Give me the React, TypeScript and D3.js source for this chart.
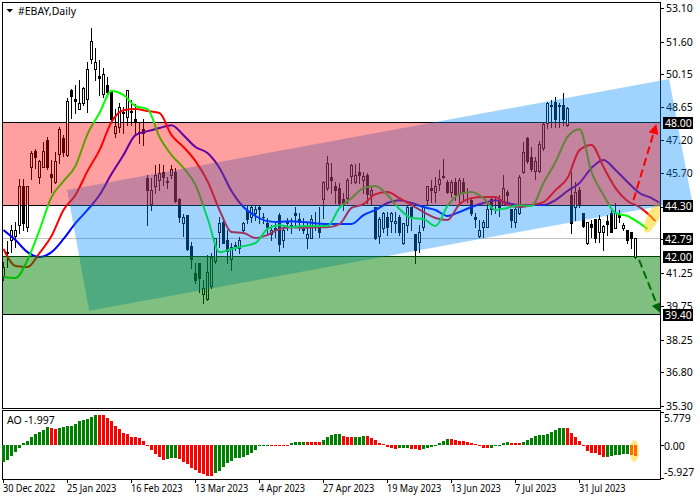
import React from "react";
import * as d3 from "d3";

const title = "#EBAY,Daily";
const aoLabel = "AO -1.997";
const opens = [41.06,42.17,42.71,42.85,43.38,45.09,43.29,45.94,46.70,45.53,45.98,47.19,45.67,45.27,46.56,47.28,46.52,49.39,49.03,48.58,48.85,49.03,50.82,50.33,50.06,49.25,49.65,49.34,47.50,47.77,48.44,48.18,48.49,48.09,47.55,47.68,45.49,44.32,45.09,45.40,45.76,45.35,45.62,45.76,44.55,43.47,43.83,42.44,41.23,41.68,40.29,40.07,40.65,41.73,43.03,43.52,42.71,41.82,42.49,42.35,43.12,43.97,43.74,43.88,44.15,43.74,43.47,42.98,43.21,43.83,42.71,43.52,43.38,43.92,43.65,43.25,42.80,42.80,43.38,43.25,44.55,45.00,45.53,45.09,45.04,44.55,44.59,45.58,45.31,45.76,45.40,45.62,44.73,44.15,42.89,43.25,43.70,43.56,43.47,43.74,42.58,43.38,44.15,42.94,42.62,43.29,44.50,45.00,44.82,45.22,45.58,45.27,44.82,45.31,44.77,45.31,44.86,44.50,43.70,42.89,43.29,43.29,44.55,44.28,44.50,44.28,44.82,44.06,43.52,43.92,45.76,47.28,46.43,45.80,45.80,46.83,47.95,48.76,48.89,48.76,48.76,47.86,44.73,44.19,44.91,43.88,42.58,43.43,43.65,43.03,43.03,43.56,43.92,43.25,43.79,43.25,43.16,43.03,41.95];
const highs = [41.73,42.67,43.38,43.52,45.44,45.44,45.09,46.70,46.79,46.30,47.10,47.33,46.30,46.65,47.77,47.41,49.07,49.47,49.65,49.88,49.56,50.68,52.21,51.31,50.77,50.41,50.01,49.34,48.58,48.85,48.67,49.43,48.98,48.80,48.00,48.13,45.62,45.49,46.07,46.12,46.07,45.53,46.07,45.94,44.59,43.88,43.83,42.62,41.68,41.68,40.92,42.04,42.13,42.80,43.74,43.74,43.16,42.58,42.62,42.85,43.52,44.24,44.24,44.28,44.28,43.92,43.70,43.38,43.47,43.92,43.38,43.70,43.70,44.19,43.92,43.70,43.47,43.83,43.97,44.19,45.35,46.47,46.16,45.31,45.27,44.82,45.49,46.12,46.12,46.16,45.76,45.71,45.09,44.15,43.74,43.97,43.97,43.97,43.97,43.83,43.47,44.24,44.19,42.94,43.38,44.28,45.13,45.40,45.53,45.85,46.34,45.40,45.40,45.49,45.49,45.49,45.04,44.59,43.92,43.61,43.61,44.37,44.64,44.59,44.73,45.62,44.95,44.06,44.28,45.62,47.10,47.33,46.88,46.43,47.15,47.95,48.89,48.98,49.12,48.85,49.30,48.67,45.76,45.31,45.09,43.92,43.52,43.61,43.65,43.83,43.38,43.83,44.06,44.37,44.06,43.47,43.16,43.07,42.80];
const lows = [40.92,41.50,42.17,42.40,43.03,43.16,43.12,45.44,45.94,45.27,45.98,45.89,44.86,45.27,46.16,46.47,46.47,48.18,48.40,48.58,48.76,48.44,50.64,49.88,49.21,49.12,49.21,48.09,47.33,47.55,47.50,47.86,47.86,47.50,47.06,46.97,43.38,44.06,44.82,44.95,45.18,45.04,45.49,44.41,43.52,42.89,42.26,41.46,40.79,40.38,39.89,40.03,40.56,41.68,42.40,42.58,41.68,41.37,42.26,42.13,43.07,43.47,43.52,43.61,43.47,43.47,42.94,42.71,42.85,42.22,42.40,43.16,43.03,43.38,43.16,43.03,42.35,42.80,43.16,42.85,43.70,44.95,44.82,44.37,44.28,44.06,44.37,45.27,45.27,45.27,44.82,44.37,44.28,42.76,42.58,43.07,42.94,43.07,43.07,42.94,42.53,43.07,43.16,41.68,42.17,43.16,44.28,44.41,44.41,44.95,45.49,44.82,44.64,44.50,44.41,44.50,44.41,43.83,43.29,42.85,42.85,43.29,43.88,43.92,43.79,44.28,44.28,43.29,43.29,43.88,45.71,46.16,45.80,45.44,45.76,46.74,47.73,47.77,47.77,47.77,47.86,47.82,43.03,43.61,44.19,43.29,42.53,42.85,42.62,42.62,42.26,42.94,43.07,43.25,43.52,43.16,42.58,42.35,41.91];
const closes = [41.50,42.13,43.12,43.12,45.09,43.47,45.09,46.61,46.43,46.25,46.70,45.94,45.53,46.25,47.68,46.65,48.94,49.12,48.94,48.85,49.52,50.37,51.62,50.68,49.97,50.15,49.30,48.13,47.82,48.67,48.40,49.43,48.44,48.00,47.50,47.50,44.95,44.91,45.62,45.71,45.53,45.31,45.85,44.46,43.74,43.70,42.31,41.82,40.88,40.97,40.56,41.28,41.91,42.80,43.47,42.58,42.22,42.40,42.44,42.67,43.47,43.65,44.19,44.06,44.10,43.70,43.29,43.16,43.16,42.53,43.16,43.47,43.34,43.79,43.52,43.16,42.94,43.65,43.34,43.03,45.31,46.16,45.40,44.91,44.37,44.32,45.40,46.03,45.62,45.62,45.58,44.77,44.91,42.80,43.65,43.92,43.29,43.92,43.56,43.07,43.47,44.19,43.74,42.26,43.07,44.19,45.09,44.95,45.13,45.44,45.53,44.86,45.31,44.77,45.40,44.86,44.82,43.92,43.65,43.12,43.52,44.06,44.06,44.24,44.15,45.00,44.73,43.61,44.06,45.53,46.65,46.21,45.85,46.25,47.01,47.91,48.85,48.71,48.13,48.71,48.13,48.62,43.47,44.82,44.28,43.34,43.52,43.29,42.80,43.65,43.34,43.43,43.07,43.92,43.74,43.38,42.71,42.80,42.80];

// Alligator lines, read every third bar; the last entry of teeth and lips is the line's end
const jaw = [43.16,42.71,42.17,41.95,42.17,42.76,43.47,44.06,44.73,45.67,46.52,47.41,47.59,47.73,47.86,47.41,46.88,46.61,45.94,44.91,44.19,43.79,43.56,43.52,43.56,43.52,43.47,43.43,43.43,43.43,43.83,44.06,44.37,44.50,44.37,44.19,44.06,43.79,43.97,44.19,44.37,44.50,44.37,44.28,44.28,44.28,44.50,44.91,45.27,45.94,46.30,45.85,45.31,44.82,44.59,44.28];
const teeth = [42.31,41.55,41.50,42.13,42.89,44.06,44.73,45.80,46.74,48.00,48.53,48.58,48.49,48.40,47.41,46.88,46.25,45.35,44.06,43.07,43.03,42.80,42.94,43.21,43.29,43.25,43.29,43.29,43.43,44.15,44.32,44.77,44.86,44.59,44.28,43.97,43.70,43.61,44.32,44.59,44.64,44.64,44.28,44.19,44.28,44.41,44.95,45.49,46.74,46.97,45.98,45.04,44.46,44.19,43.74,43.56];
const lips = [41.06,41.01,41.82,43.16,44.64,45.35,46.03,47.46,48.40,49.39,49.21,48.71,48.58,47.33,46.52,45.94,45.18,43.70,42.17,42.31,42.44,42.58,43.21,43.38,43.29,43.34,43.34,43.34,44.15,44.59,45.04,45.13,44.73,44.10,43.70,43.65,43.34,44.24,44.77,44.86,44.59,44.06,44.15,44.28,44.24,45.27,46.21,47.33,47.68,45.76,44.73,43.92,43.79,43.47,43.21];
const teethEndBar = 163;
const lipsEndBar = 161;

const aoValues = [-3.08,-2.66,-1.95,-1.30,-0.53,0.36,0.71,1.42,1.95,2.31,2.60,3.20,3.02,2.84,3.02,3.20,3.22,3.25,3.73,4.26,4.44,4.62,4.97,5.33,5.30,5.21,4.79,4.14,3.37,2.78,2.07,1.83,1.42,1.30,1.12,0.71,-0.30,-1.01,-1.60,-2.25,-2.66,-2.49,-2.37,-2.31,-2.49,-3.02,-3.37,-4.14,-4.44,-5.03,-5.27,-5.50,-5.50,-4.97,-4.62,-3.91,-3.20,-2.84,-2.43,-2.37,-2.25,-1.78,-1.42,-0.89,-0.18,-0.12,-0.12,-0.12,-0.18,-0.18,-0.18,-0.18,0.24,0.41,0.53,0.53,0.53,0.53,0.53,0.53,0.89,1.42,1.78,1.95,1.95,1.60,1.42,1.42,1.42,1.42,1.60,1.60,1.24,0.89,0.36,0.06,-0.36,-0.65,-0.71,-0.65,-0.65,-0.65,-0.71,-0.83,-0.95,-0.83,-0.65,-0.47,-0.06,0.36,0.71,0.95,1.01,0.83,0.71,0.59,0.47,0.30,0.06,-0.18,-0.53,-0.53,-0.53,-0.24,-0.06,0.30,0.41,0.36,0.30,0.36,0.47,0.89,1.24,1.48,1.72,1.78,1.95,2.25,2.60,2.96,2.96,2.96,2.13,1.42,0.59,-0.18,-1.18,-1.42,-1.54,-1.89,-2.13,-2.13,-2.01,-1.89,-1.78,-1.72,-1.66,-1.78,-2.00];
const aoFallingRuns = [[12,13],[24,40],[44,52],[67,71],[76,79],[85,87],[91,98],[102,104],[112,121],[127,129],[141,150],[157,158]];
const aoTicks = [5.779,0,-5.927];
const aoTickLabels = ["5.779","0.00","-5.927"];

const priceTicks = ["53.10","51.60","50.15","48.65","47.20","45.70","44.20","42.75","41.25","39.75","38.25","36.80","35.30"];
const dateLabels = ["30 Dec 2022","25 Jan 2023","16 Feb 2023","13 Mar 2023","4 Apr 2023","27 Apr 2023","19 May 2023","13 Jun 2023","7 Jul 2023","31 Jul 2023"];
const dateStep = 16;

const upperLevel = 48.0;
const pivotLevel = 44.3;
const lowerLevel = 42.0;
const targetLevel = 39.4;
const lastPrice = 42.79;
const levelLabels = ["48.00","44.30","42.79","42.00","39.40"];
const levelValues = [upperLevel,pivotLevel,lastPrice,lowerLevel,targetLevel];

// channel corners as [bar, price]
const channelCorners = [[15.9,44.95],[166.4,49.93],[172.1,44.5],[21.4,39.54]];
const upArrow = [[157.5,44.5],[163.2,47.91]];
const downArrow = [[158.9,41.82],[164.2,39.44]];
const highlight = [162.4,43.74];
const aoHighlight = [157.7,-1.13];

const FONT = "'Noto Sans', sans-serif";
const PLOT_L = 2.5, PLOT_R = 660.5, MAIN_T = 2.5, MAIN_B = 408.5, AO_T = 410.5, AO_B = 479.5;

const x = d3.scaleLinear().domain([0,158]).range([3.5,635.5]);
const y = d3.scaleLinear().domain([48,39.4]).range([122,314]);
const aoY = d3.scaleLinear().domain([5.779,-5.927]).range([412,478]);
const crisp = (v:number)=>Math.round(v)+0.5;

function lineFor(values:number[], endBar?:number){
  const pts = values.map((v,k)=>{
    const bar = endBar!==undefined && k===values.length-1 ? endBar : k*3;
    return [x(bar),y(v)] as [number,number];
  });
  return d3.line().curve(d3.curveMonotoneX)(pts) as string;
}
function arrowHead(a:number[],b:number[],len:number,half:number){
  const x0=x(a[0]),y0=y(a[1]),x1=x(b[0]),y1=y(b[1]);
  const d=Math.hypot(x1-x0,y1-y0),ux=(x1-x0)/d,uy=(y1-y0)/d;
  const bx=x1-ux*len,by=y1-uy*len;
  return {
    shaft:[x0,y0,bx,by],
    head:`${x1},${y1} ${bx-uy*half},${by+ux*half} ${bx+uy*half},${by-ux*half}`,
  };
}
const isFalling=(i:number)=>aoFallingRuns.some(([a,b])=>i>=a&&i<=b);

export default function App(){
  const up=arrowHead(upArrow[0],upArrow[1],10,5);
  const down=arrowHead(downArrow[0],downArrow[1],10,5);
  const channelPts=channelCorners.map(c=>`${x(c[0])},${y(c[1])}`).join(" ");
  const rectUpper=[crisp(y(upperLevel))+0.5,Math.round(y(pivotLevel))];
  const rectLower=[Math.round(y(lowerLevel)),Math.round(y(targetLevel))];
  return (
    <svg width={700} height={500} style={{position:"fixed",left:0,top:0,background:"#fff"}} fontFamily={FONT} fontSize={10.5}>
      <defs>
        <clipPath id="main"><rect x={3} y={3} width={657} height={405}/></clipPath>
      </defs>
      <rect x={0} y={0} width={700} height={500} fill="#fff"/>
      {/* axes */}
      <rect x={PLOT_L} y={MAIN_T} width={PLOT_R-PLOT_L} height={MAIN_B-MAIN_T} fill="none" stroke="#000"/>
      <rect x={PLOT_L} y={AO_T} width={PLOT_R-PLOT_L} height={AO_B-AO_T} fill="none" stroke="#000"/>
      {priceTicks.map(t=>{
        const py=crisp(y(+t));
        return <g key={t}>
          <line x1={661} x2={664} y1={py} y2={py} stroke="#000"/>
          <text x={666} y={py+3.5} fill="#000">{t}</text>
        </g>;
      })}
      {aoTicks.map((t,i)=>{
        const py=crisp(aoY(t));
        const ty=i===0?418:i===2?472:446;
        return <g key={t}>
          <line x1={661} x2={664} y1={py} y2={py} stroke="#000"/>
          <text x={664} y={ty+3.5} fill="#000">{aoTickLabels[i]}</text>
        </g>;
      })}
      {dateLabels.map((d,k)=>{
        const tx=x(k*dateStep)-0.5;
        return <g key={d}>
          <line x1={Math.round(tx)+0.5} x2={Math.round(tx)+0.5} y1={479} y2={483} stroke="#000"/>
          <text transform={`translate(${tx},492) scale(0.87,1)`} fill="#000">{d}</text>
        </g>;
      })}
      {/* level lines */}
      <g shapeRendering="crispEdges">
        {[upperLevel,pivotLevel,lowerLevel,targetLevel].map(l=>(
          <line key={l} x1={3} x2={660} y1={crisp(y(l))} y2={crisp(y(l))} stroke="#000"/>
        ))}
        <line x1={3} x2={660} y1={crisp(y(lastPrice))} y2={crisp(y(lastPrice))} stroke="#c0c0c0"/>
      </g>
      {/* candles */}
      <g clipPath="url(#main)" shapeRendering="crispEdges">
        {opens.map((o,i)=>{
          const c=closes[i];
          const cx=Math.floor(x(i))+0.5;
          const top=crisp(y(Math.max(o,c))-0.5);
          const bot=Math.max(crisp(y(Math.min(o,c))-0.5),top);
          return <g key={i}>
            <line x1={cx} x2={cx} y1={y(highs[i])} y2={y(lows[i])+1} stroke="#000"/>
            <rect x={cx-1} y={top} width={2} height={Math.max(bot-top,0.01)} fill={c>=o?"#fff":"#000"} stroke="#000"/>
          </g>;
        })}
      </g>
      {/* alligator */}
      <g clipPath="url(#main)" fill="none" strokeWidth={2}>
        <path d={lineFor(jaw)} stroke="#0000ff"/>
        <path d={lineFor(teeth,teethEndBar)} stroke="#ff0000"/>
        <path d={lineFor(lips,lipsEndBar)} stroke="#00ff00"/>
      </g>
      {/* highlight */}
      <g clipPath="url(#main)">
        <ellipse cx={0} cy={0} rx={17} ry={6} fill="#ffd200" fillOpacity={0.5}
          transform={`translate(${x(highlight[0])},${y(highlight[1])}) rotate(-64)`}/>
      </g>
      {/* translucent objects drawn over the candles */}
      <polygon points={channelPts} fill="rgb(0,139,255)" fillOpacity={0.373}/>
      <rect x={3} y={rectUpper[0]} width={657} height={rectUpper[1]-rectUpper[0]} fill="#ff0000" fillOpacity={0.375}/>
      <rect x={3} y={rectLower[0]} width={657} height={rectLower[1]-rectLower[0]} fill="#008000" fillOpacity={0.5}/>
      {/* arrows */}
      <g clipPath="url(#main)">
        <line x1={up.shaft[0]} y1={up.shaft[1]} x2={up.shaft[2]} y2={up.shaft[3]} stroke="#ff0000" strokeWidth={2} strokeDasharray="8 4"/>
        <polygon points={up.head} fill="#ff0000"/>
        <line x1={down.shaft[0]} y1={down.shaft[1]} x2={down.shaft[2]} y2={down.shaft[3]} stroke="#006e00" strokeWidth={2} strokeDasharray="8 4"/>
        <polygon points={down.head} fill="#006400"/>
      </g>
      {/* level labels */}
      {levelLabels.map((t,i)=>{
        const py=crisp(y(levelValues[i]));
        return <g key={t}>
          <rect x={663} y={py-5.5} width={30} height={12} fill="#000"/>
          <text x={665} y={py+4} fill="#fff">{t}</text>
        </g>;
      })}
      {/* title */}
      <polygon points="6.5,9 13,9 9.7,12.5" fill="#000"/>
      <text x={18} y={14.5} fill="#000">{title}</text>
      {/* AO */}
      <g shapeRendering="crispEdges">
        {aoValues.map((v,i)=>{
          const y0=Math.round(aoY(0)), y1=Math.round(aoY(v));
          return <rect key={i} x={Math.floor(x(i))-1} width={3} y={Math.min(y0,y1)} height={Math.max(Math.abs(y1-y0),1)} fill={isFalling(i)?"#ff0000":"#008000"}/>;
        })}
      </g>
      <ellipse cx={x(aoHighlight[0])} cy={aoY(aoHighlight[1])} rx={4.5} ry={11} fill="#ffd200" fillOpacity={0.5}/>
      <text x={7} y={424} fill="#000">{aoLabel}</text>
    </svg>
  );
}
